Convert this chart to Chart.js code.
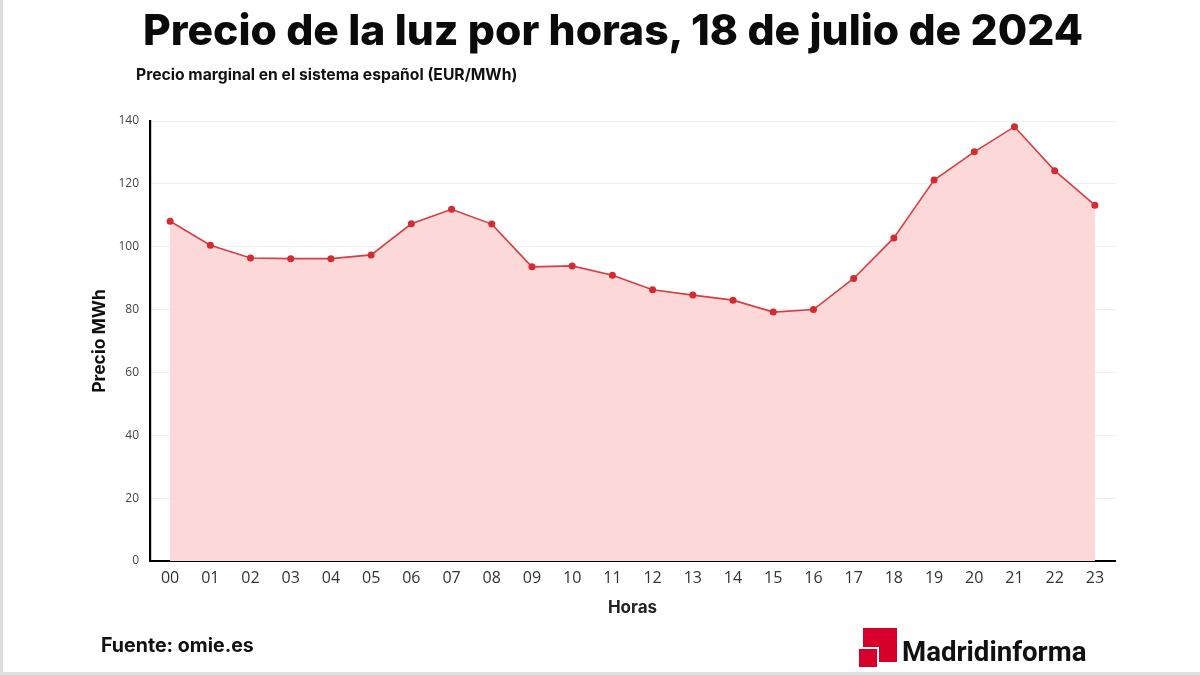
<!DOCTYPE html>
<html>
<head>
<meta charset="utf-8">
<script src="https://cdn.jsdelivr.net/npm/chart.js@4.4.1/dist/chart.umd.min.js"></script>
<style>
  html, body { margin: 0; padding: 0; background: #fff; }
  body { width: 1200px; height: 675px; position: relative; overflow: hidden; font-family: Inter, "Open Sans", sans-serif; }
  #wrap { position: absolute; left: 0; top: 0; width: 1200px; height: 675px; }
  #title { position: absolute; left: 0; width: 1226px; top: 4px; text-align: center; font-family: Inter, sans-serif; font-weight: 800; font-size: 42.6px; color: #0a0a0a; white-space: nowrap; }
  #subtitle { position: absolute; left: 136px; top: 65px; font-family: Inter, sans-serif; font-weight: 700; font-size: 15.7px; color: #111; white-space: nowrap; }
  #source { position: absolute; left: 101px; top: 633px; font-family: Inter, sans-serif; font-weight: 700; font-size: 19.6px; color: #111; white-space: nowrap; }
  #logoBig { position: absolute; left: 863px; top: 628px; width: 34px; height: 34px; background: #d7002b; }
  #logoSmall { position: absolute; left: 857px; top: 647px; width: 18px; height: 18px; background: #d7002b; border: 2px solid #fff; }
  #logoText { position: absolute; left: 902px; top: 635px; font-family: Roboto, sans-serif; font-weight: 700; font-size: 27.6px; color: #111; white-space: nowrap; }
  #edgeL { position: absolute; left: 0; top: 0; width: 3px; height: 675px; background: #dcdcdc; }
  #edgeB { position: absolute; left: 0; top: 672px; width: 1200px; height: 3px; background: #e0e0e0; }
</style>
</head>
<body>
<div id="wrap"><canvas id="c" width="1200" height="675"></canvas></div>
<div id="title">Precio de la luz por horas, 18 de julio de 2024</div>
<div id="subtitle">Precio marginal en el sistema español (EUR/MWh)</div>
<div id="source">Fuente: omie.es</div>
<div id="logoBig"></div>
<div id="logoSmall"></div>
<div id="logoText">Madridinforma</div>
<div id="edgeL"></div>
<div id="edgeB"></div>
<script>
const hours = ["00","01","02","03","04","05","06","07","08","09","10","11","12","13","14","15","16","17","18","19","20","21","22","23"];
const prices = [108.1, 100.5, 96.4, 96.2, 96.2, 97.4, 107.3, 111.9, 107.2, 93.6, 93.9, 90.9, 86.3, 84.6, 83.0, 79.2, 80.0, 89.9, 102.8, 121.2, 130.2, 138.2, 124.2, 113.2];
const yMin = 0, yMax = 140, yStep = 20;
const xTitle = "Horas";
const yTitle = "Precio MWh";

new Chart(document.getElementById('c'), {
  type: 'line',
  data: {
    labels: hours,
    datasets: [{
      data: prices,
      borderColor: '#d43f45',
      borderWidth: 1.6,
      backgroundColor: '#fdd8d8',
      fill: 'origin',
      tension: 0,
      pointRadius: 3.5,
      pointBackgroundColor: '#d42a30',
      pointBorderColor: '#d42a30',
      pointBorderWidth: 0
    }]
  },
  options: {
    responsive: false,
    animation: false,
    devicePixelRatio: 1,
    layout: { padding: { left: 88, right: 85, top: 121, bottom: 55 } },
    plugins: { legend: { display: false }, tooltip: { enabled: false } },
    scales: {
      x: {
        offset: true,
        grid: { display: false, drawTicks: false },
        border: { color: '#000', width: 2 },
        ticks: { color: '#333', font: { family: 'Open Sans', size: 16 }, padding: 8, maxRotation: 0, autoSkip: false },
        title: { display: true, text: xTitle, color: '#222', font: { family: 'Inter', size: 17, weight: '700' }, padding: { top: 0, bottom: 2 } },
        afterFit: (s) => { s.height = 59; }
      },
      y: {
        min: yMin, max: yMax,
        grid: { color: '#f0f0f0', lineWidth: 1, drawTicks: false },
        border: { color: '#000', width: 2.2 },
        ticks: { stepSize: yStep, color: '#444', font: { family: 'Open Sans', size: 12 }, padding: 11 },
        title: { display: true, text: yTitle, color: '#111', font: { family: 'Inter', size: 17.5, weight: '700' }, padding: { top: 1, bottom: 0 } },
        afterFit: (s) => { s.width = 62; }
      }
    }
  }
});
</script>
</body>
</html>
